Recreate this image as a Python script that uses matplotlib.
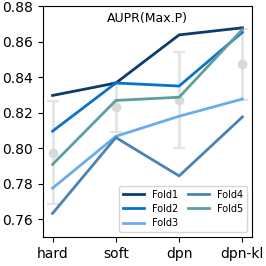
import matplotlib
matplotlib.use("Agg")
import matplotlib.pyplot as plt

methods = ["hard", "soft", "dpn", "dpn-kl"]
fold_names = ["Fold1", "Fold2", "Fold3", "Fold4", "Fold5"]
fold1 = [0.8297, 0.8367, 0.8638, 0.8678]
fold2 = [0.8096, 0.8367, 0.8350, 0.8653]
fold3 = [0.7775, 0.8067, 0.8180, 0.8277]
fold4 = [0.7633, 0.8060, 0.7844, 0.8176]
fold5 = [0.7909, 0.8269, 0.8287, 0.8669]
mean_vals = [0.7975, 0.8232, 0.8272, 0.8473]
err_vals = [0.0289, 0.0140, 0.0269, 0.0200]

colors = ["#0b3c6c", "#0b73cc", "#6aadea", "#4a83b6", "#5f9e9e"]

fig = plt.figure(figsize=(2.66, 2.66), dpi=100)
ax = fig.add_axes([0.162, 0.109, 0.785, 0.868])

x = list(range(len(methods)))
ax.errorbar(x, mean_vals, yerr=err_vals, fmt="o", color="#d9d9d9",
            ecolor="#e3e3e3", elinewidth=2, capsize=4, capthick=1.5,
            markersize=6, zorder=1)

for name, vals, c in zip(fold_names, [fold1, fold2, fold3, fold4, fold5], colors):
    ax.plot(x, vals, color=c, lw=2, label=name, zorder=2)

ax.set_xticks(x)
ax.set_xticklabels(methods, fontsize=10)
ax.set_xlim(-0.15, 3.15)
ax.set_ylim(0.75, 0.88)
ax.set_yticks([0.76, 0.78, 0.80, 0.82, 0.84, 0.86, 0.88])
ax.tick_params(axis="y", labelsize=10)
ax.text(0.5, 0.975, "AUPR(Max.P)", transform=ax.transAxes,
        ha="center", va="top", fontsize=9)
ax.legend(loc="lower right", ncol=2, fontsize=7, handlelength=2.2,
          columnspacing=1.0, borderpad=0.4, labelspacing=0.45)

fig.savefig("out.png", dpi=100)
